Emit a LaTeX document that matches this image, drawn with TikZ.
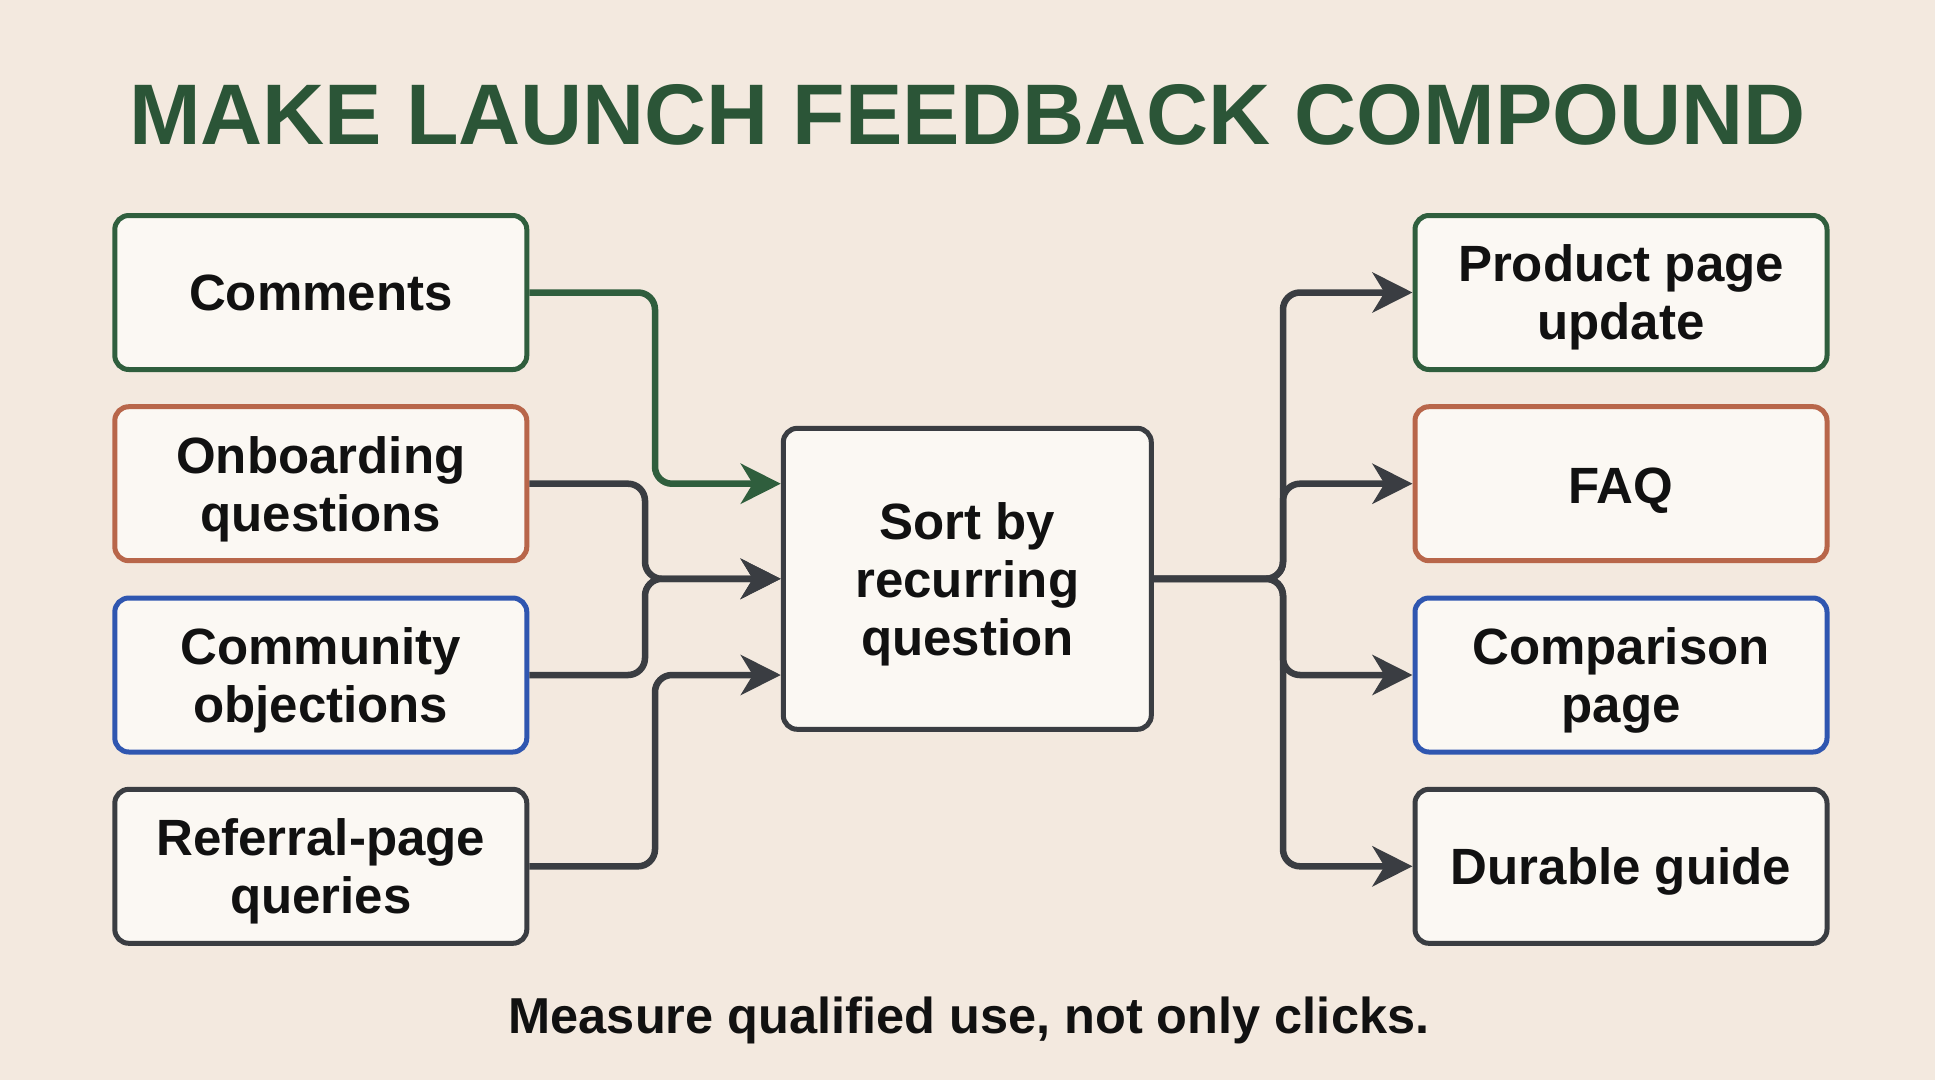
\documentclass[tikz,border=0pt]{standalone}
\usepackage{fontspec}
\setmainfont{Liberation Sans}
\usetikzlibrary{arrows.meta}
\definecolor{bg}{HTML}{F3E9DF}
\definecolor{boxfill}{HTML}{FBF8F3}
\definecolor{cgreen}{HTML}{2F5E3D}
\definecolor{corange}{HTML}{B8664A}
\definecolor{cblue}{HTML}{2F56B0}
\definecolor{cdark}{HTML}{3A3D42}
\definecolor{ctitle}{HTML}{2B5537}
\definecolor{ctext}{HTML}{111111}
\tikzset{
  card/.style={draw, line width=5pt, rounded corners=14pt, fill=boxfill,
    minimum width=412pt, minimum height=154pt, align=center, text=ctext,
    font=\fontsize{51}{58}\selectfont\bfseries, inner sep=0pt, text depth=0pt},
  conn/.style={line width=6.5pt, rounded corners=17pt, draw=cdark,
    -{Stealth[length=40pt,width=40pt,inset=12pt]}},
}
\begin{document}
\begin{tikzpicture}[x=1pt,y=-1pt]
\fill[bg] (0,0) rectangle (1935,1080);
\useasboundingbox (0,0) rectangle (1935,1080);

\node[text=ctitle, font=\fontsize{86}{90}\selectfont\bfseries] (title) at (967.5,115) {MAKE LAUNCH FEEDBACK COMPOUND};

\node[card, draw=cgreen] (c1) at (320.8,292.5) {Comments};
\node[card, draw=corange] (c2) at (320.8,483.7) {Onboarding\\questions};
\node[card, draw=cblue] (c3) at (320.8,675) {Community\\objections};
\node[card, draw=cdark] (c4) at (320.8,866.3) {Referral-page\\queries};

\node[card, draw=cdark, minimum width=368pt, minimum height=301pt] (sort) at (967.3,578.8) {Sort by\\recurring\\question};

\node[card, draw=cgreen] (r1) at (1621,292.5) {Product page\\update};
\node[card, draw=corange] (r2) at (1621,483.7) {\raisebox{-3pt}{FAQ}};
\node[card, draw=cblue] (r3) at (1621,675) {Comparison\\page};
\node[card, draw=cdark] (r4) at (1621,866.3) {Durable guide};

\node[text=ctext, font=\fontsize{50.5}{56}\selectfont\bfseries] (foot) at (969,1020) {Measure qualified use, not only clicks.};

\coordinate (ja) at (655,0);
\coordinate (jb) at (645,0);
\coordinate (jr) at (1283,0);

\draw[conn, draw=cgreen] (c1.east) -| (ja |- c2.east) -- (sort.west |- c2.east);
\draw[conn] (c2.east) -| (jb |- sort.west) -- (sort.west);
\draw[conn] (c3.east) -| (jb |- sort.west) -- (sort.west);
\draw[conn] (c4.east) -| (ja |- c3.east) -- (sort.west |- c3.east);

\draw[conn] (sort.east) -| (jr |- r1.west) -- (r1.west);
\draw[conn] (sort.east) -| (jr |- r2.west) -- (r2.west);
\draw[conn] (sort.east) -| (jr |- r3.west) -- (r3.west);
\draw[conn] (sort.east) -| (jr |- r4.west) -- (r4.west);
\end{tikzpicture}
\end{document}
